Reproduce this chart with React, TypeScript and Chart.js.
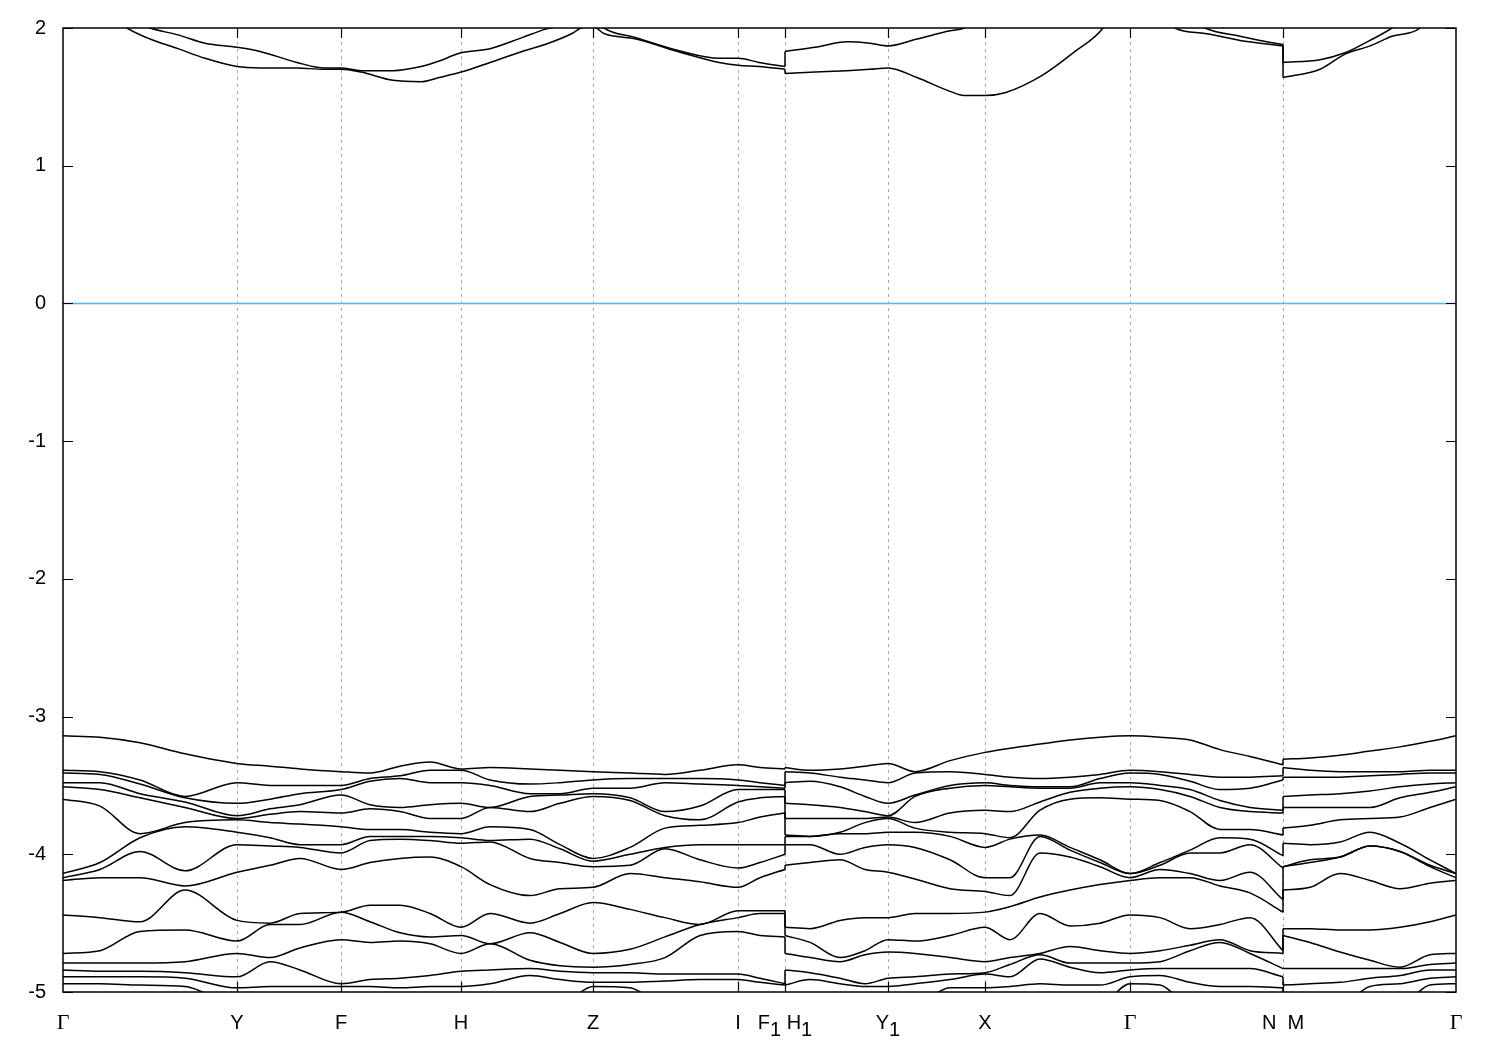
import React, { useEffect, useRef } from "react";
import { Chart, registerables } from "chart.js";

Chart.register(...registerables);

// High-symmetry points along the k-path (path length units)
const kTickPos = [0, 174, 278, 398, 530, 675, 722, 825, 922, 1067, 1220, 1393];
const kTickLabels = ["Γ", "Y", "F", "H", "Z", "I", "F_1 H_1", "Y_1", "X", "Γ", "N  M", "Γ"];
const energyTicks = [-5, -4, -3, -2, -1, 0, 1, 2];
const fermiLevel = 0;

// k samples for the valence bands (repeated k = discontinuity F1|H1 and N|M)
const kSamples = [
  0, 37, 77, 122, 174, 207, 237, 278, 307, 337, 367, 398, 427, 467, 497, 530,
  567, 602, 637, 675, 697, 722, 722, 747, 777, 802, 825, 852, 887, 922, 947,
  977, 1007, 1037, 1067, 1097, 1127, 1157, 1187, 1220, 1220, 1247, 1277, 1307,
  1337, 1367, 1393,
];

// Energies (eV) of the valence bands at each k sample, sorted from the top
const gammaStart = [-3.14, -3.39, -3.41, -3.48, -3.51, -3.60, -4.14, -4.17, -4.19, -4.44, -4.72, -4.79, -4.84, -4.89, -4.94, -5.06, -5.09];
const gammaLevels = [-3.14, -3.39, -3.41, -3.48, -3.51, -3.60, -4.14, -4.14, -4.17, -4.19, -4.44, -4.72, -4.79, -4.84, -4.89, -4.94, -5.06];
const bandLevels: number[][] = [
  gammaStart,
  [-3.15, -3.40, -3.42, -3.48, -3.53, -3.65, -4.06, -4.11, -4.17, -4.46, -4.70, -4.79, -4.85, -4.89, -4.94, -5.06, -5.09],
  [-3.19, -3.46, -3.49, -3.56, -3.59, -3.85, -3.88, -3.98, -4.17, -4.49, -4.56, -4.79, -4.85, -4.89, -4.95, -5.06, -5.09],
  [-3.27, -3.58, -3.59, -3.62, -3.66, -3.77, -3.80, -4.12, -4.23, -4.26, -4.55, -4.78, -4.86, -4.90, -4.96, -5.06, -5.09],
  [-3.34, -3.48, -3.63, -3.72, -3.74, -3.75, -3.84, -3.93, -4.13, -4.48, -4.63, -4.72, -4.89, -4.97, -5.09, -5.13, -5.17],
  [-3.36, -3.50, -3.60, -3.67, -3.71, -3.77, -3.88, -3.94, -4.08, -4.50, -4.51, -4.75, -4.78, -4.96, -5.09, -5.13, -5.17],
  [-3.38, -3.50, -3.56, -3.64, -3.69, -3.78, -3.93, -3.95, -4.03, -4.43, -4.51, -4.68, -4.84, -4.96, -5.09, -5.13, -5.17],
  [-3.40, -3.50, -3.53, -3.57, -3.70, -3.80, -3.93, -3.99, -4.11, -4.42, -4.42, -4.62, -4.94, -4.96, -5.09, -5.13, -5.17],
  [-3.41, -3.45, -3.47, -3.64, -3.67, -3.82, -3.87, -3.90, -4.06, -4.37, -4.49, -4.64, -4.91, -4.96, -5.09, -5.13, -5.17],
  [-3.36, -3.43, -3.45, -3.66, -3.69, -3.82, -3.87, -3.89, -4.03, -4.37, -4.57, -4.63, -4.90, -4.97, -5.09, -5.13, -5.17],
  [-3.33, -3.39, -3.48, -3.64, -3.74, -3.84, -3.87, -3.90, -4.02, -4.43, -4.60, -4.65, -4.88, -4.96, -5.09, -5.13, -5.17],
  [-3.38, -3.39, -3.48, -3.63, -3.74, -3.85, -3.88, -3.92, -4.09, -4.53, -4.59, -4.72, -4.85, -4.96, -5.09, -5.13, -5.17],
  [-3.37, -3.46, -3.50, -3.66, -3.66, -3.80, -3.90, -3.91, -4.22, -4.43, -4.65, -4.65, -4.84, -4.94, -5.09, -5.13, -5.17],
  [-3.38, -3.49, -3.56, -3.58, -3.69, -3.82, -3.89, -4.03, -4.30, -4.50, -4.57, -4.77, -4.83, -4.88, -5.09, -5.13, -5.17],
  [-3.39, -3.48, -3.56, -3.57, -3.63, -3.93, -3.96, -4.06, -4.25, -4.43, -4.64, -4.81, -4.85, -4.91, -5.09, -5.13, -5.17],
  [-3.40, -3.46, -3.52, -3.56, -3.58, -4.03, -4.05, -4.09, -4.24, -4.35, -4.72, -4.82, -4.86, -4.93, -4.96, -5.09, -5.17],
  [-3.41, -3.45, -3.52, -3.59, -3.61, -3.95, -4.00, -4.08, -4.14, -4.40, -4.69, -4.80, -4.86, -4.93, -4.97, -5.13, -5.17],
  [-3.42, -3.45, -3.48, -3.69, -3.72, -3.81, -3.95, -3.96, -4.17, -4.46, -4.60, -4.75, -4.87, -4.92, -5.09, -5.13, -5.17],
  [-3.39, -3.45, -3.49, -3.65, -3.75, -3.79, -3.93, -4.04, -4.20, -4.51, -4.51, -4.59, -4.87, -4.91, -5.09, -5.13, -5.17],
  [-3.35, -3.46, -3.50, -3.53, -3.62, -3.77, -3.93, -4.10, -4.24, -4.41, -4.46, -4.56, -4.87, -4.91, -5.09, -5.13, -5.17],
  [-3.37, -3.48, -3.51, -3.53, -3.59, -3.73, -3.93, -4.06, -4.17, -4.41, -4.43, -4.59, -4.90, -4.93, -5.09, -5.13, -5.17],
  [-3.38, -3.50, -3.52, -3.53, -3.58, -3.70, -3.93, -4.00, -4.11, -4.41, -4.43, -4.60, -4.94, -4.95, -5.09, -5.13, -5.17],
  [-3.37, -3.40, -3.48, -3.63, -3.74, -3.86, -3.87, -3.93, -4.08, -4.53, -4.59, -4.72, -4.84, -4.95, -5.09, -5.13, -5.17],
  [-3.39, -3.41, -3.47, -3.64, -3.74, -3.87, -3.87, -3.93, -4.06, -4.54, -4.64, -4.75, -4.86, -4.91, -5.09, -5.13, -5.17],
  [-3.38, -3.44, -3.51, -3.66, -3.74, -3.84, -3.85, -4.00, -4.04, -4.48, -4.75, -4.78, -4.90, -4.94, -5.09, -5.13, -5.17],
  [-3.36, -3.46, -3.58, -3.69, -3.74, -3.77, -3.85, -3.95, -4.11, -4.46, -4.70, -4.73, -4.94, -4.96, -5.09, -5.13, -5.17],
  [-3.34, -3.48, -3.63, -3.72, -3.73, -3.74, -3.84, -3.93, -4.13, -4.46, -4.62, -4.71, -4.90, -4.96, -5.09, -5.13, -5.17],
  [-3.40, -3.41, -3.57, -3.58, -3.77, -3.81, -3.84, -3.95, -4.18, -4.43, -4.63, -4.72, -4.89, -4.94, -5.09, -5.13, -5.17],
  [-3.32, -3.40, -3.50, -3.52, -3.70, -3.84, -3.87, -4.04, -4.25, -4.43, -4.59, -4.75, -4.87, -4.91, -4.97, -5.09, -5.13],
  [-3.26, -3.42, -3.48, -3.50, -3.68, -3.85, -3.95, -4.17, -4.27, -4.42, -4.53, -4.78, -4.86, -4.87, -4.97, -5.09, -5.13],
  [-3.23, -3.44, -3.50, -3.51, -3.69, -3.88, -3.89, -4.17, -4.30, -4.38, -4.62, -4.75, -4.80, -4.89, -4.96, -5.09, -5.13],
  [-3.20, -3.45, -3.51, -3.52, -3.62, -3.68, -3.86, -3.87, -3.99, -4.31, -4.43, -4.72, -4.73, -4.76, -4.94, -5.09, -5.13],
  [-3.17, -3.44, -3.51, -3.52, -3.55, -3.60, -3.95, -3.97, -4.02, -4.26, -4.52, -4.67, -4.79, -4.82, -4.95, -5.09, -5.13],
  [-3.15, -3.42, -3.45, -3.48, -3.52, -3.59, -4.04, -4.06, -4.09, -4.22, -4.50, -4.70, -4.79, -4.86, -4.95, -5.09, -5.13],
  gammaLevels,
  [-3.15, -3.40, -3.42, -3.50, -3.53, -3.61, -4.06, -4.08, -4.11, -4.17, -4.46, -4.70, -4.78, -4.83, -4.88, -4.95, -5.09],
  [-3.17, -3.42, -3.47, -3.53, -3.58, -3.69, -3.97, -3.99, -4.14, -4.17, -4.54, -4.66, -4.70, -4.83, -4.93, -5.09, -5.13],
  [-3.24, -3.44, -3.53, -3.61, -3.66, -3.82, -3.88, -3.99, -4.19, -4.23, -4.51, -4.62, -4.64, -4.83, -4.96, -5.09, -5.13],
  [-3.29, -3.44, -3.52, -3.66, -3.69, -3.82, -3.89, -3.93, -4.13, -4.28, -4.46, -4.70, -4.72, -4.83, -4.96, -5.09, -5.13],
  [-3.35, -3.43, -3.46, -3.68, -3.70, -3.86, -4.01, -4.10, -4.33, -4.42, -4.70, -4.72, -4.83, -4.89, -4.97, -5.09, -5.13],
  [-3.31, -3.37, -3.44, -3.58, -3.66, -3.81, -3.92, -4.09, -4.09, -4.26, -4.54, -4.59, -4.83, -4.95, -5.09, -5.13, -5.17],
  [-3.30, -3.39, -3.44, -3.57, -3.66, -3.79, -3.93, -4.04, -4.06, -4.24, -4.54, -4.64, -4.83, -4.94, -5.09, -5.13, -5.17],
  [-3.28, -3.40, -3.44, -3.56, -3.66, -3.75, -3.91, -4.02, -4.02, -4.14, -4.55, -4.71, -4.83, -4.93, -5.09, -5.13, -5.17],
  [-3.25, -3.40, -3.43, -3.54, -3.66, -3.74, -3.84, -3.94, -3.94, -4.19, -4.55, -4.77, -4.83, -4.90, -4.96, -5.09, -5.13],
  [-3.22, -3.40, -3.42, -3.51, -3.59, -3.73, -3.92, -3.98, -3.98, -4.25, -4.53, -4.82, -4.83, -4.88, -4.94, -5.09, -5.13],
  [-3.18, -3.39, -3.41, -3.49, -3.55, -3.66, -4.04, -4.08, -4.09, -4.21, -4.49, -4.73, -4.80, -4.84, -4.90, -4.95, -5.09],
  gammaLevels,
];

// Conduction bands
const cbK = [
  0, 64, 87, 115, 142, 174, 197, 234, 261, 278, 298, 330, 358, 376, 398, 427,
  459, 482, 509, 518, 530, 541, 573, 619, 656, 675, 696, 722, 722, 752, 784,
  807, 825, 854, 887, 901, 922, 942, 980, 1012, 1040, 1067, 1112, 1142, 1177,
  1197, 1220, 1220, 1257, 1282, 1307, 1329, 1357, 1393,
];
const cbUpper = [
  2.50, 2.07, 2.00, 1.95, 1.89, 1.86, 1.83, 1.75, 1.71, 1.71, 1.69, 1.69, 1.72,
  1.76, 1.82, 1.85, 1.93, 1.99, 2.03, 2.05, 2.08, 2.00, 1.93, 1.83, 1.78, 1.78,
  1.75, 1.72, 1.83, 1.86, 1.90, 1.89, 1.87, 1.92, 1.98, 2.00, 2.10, 2.15, 2.30,
  2.40, 2.48, 2.50, 2.15, 2.00, 1.94, 1.91, 1.88, 1.75, 1.77, 1.82, 1.91, 2.00,
  2.15, 2.50,
];
const cbLower = [
  2.35, 2.00, 1.92, 1.85, 1.78, 1.72, 1.71, 1.71, 1.70, 1.70, 1.68, 1.62, 1.61,
  1.64, 1.68, 1.75, 1.83, 1.88, 1.96, 2.00, 2.01, 1.96, 1.92, 1.82, 1.75, 1.73,
  1.72, 1.70, 1.67, 1.68, 1.69, 1.70, 1.71, 1.64, 1.54, 1.51, 1.51, 1.53, 1.66,
  1.83, 2.00, 2.35, 2.00, 1.96, 1.91, 1.89, 1.87, 1.64, 1.70, 1.81, 1.87, 1.94,
  2.00, 2.35,
];

const SANS = '"Liberation Sans", Arial, sans-serif';
const SERIF = '"Liberation Serif", "Times New Roman", serif';

function drawKLabel(ctx: CanvasRenderingContext2D, label: string, cx: number, baseY: number) {
  const parts: { t: string; sub: boolean }[] = [];
  for (let i = 0; i < label.length; i++) {
    if (label[i] === "_" && i + 1 < label.length) {
      parts.push({ t: label[i + 1], sub: true });
      i++;
    } else parts.push({ t: label[i], sub: false });
  }
  const fontFor = (t: string) => (t === "Γ" ? `22px ${SERIF}` : `20px ${SANS}`);
  let total = 0;
  const widths = parts.map((p) => {
    ctx.font = fontFor(p.t);
    const w = ctx.measureText(p.t).width;
    total += w;
    return w;
  });
  let x = cx - total / 2;
  parts.forEach((p, i) => {
    ctx.font = fontFor(p.t);
    ctx.fillText(p.t, x, baseY + (p.sub ? 7 : 0));
    x += widths[i];
  });
}

const decorPlugin = {
  id: "bandDecor",
  beforeDatasetsDraw(chart: any) {
    const { ctx, chartArea: a, scales } = chart;
    const xs = scales.x;
    ctx.save();
    ctx.strokeStyle = "#a8a8a8";
    ctx.lineWidth = 1;
    ctx.setLineDash([3, 4]);
    kTickPos.slice(1, -1).forEach((k) => {
      const px = Math.round(xs.getPixelForValue(k)) + 0.5;
      ctx.beginPath();
      ctx.moveTo(px, a.top);
      ctx.lineTo(px, a.bottom);
      ctx.stroke();
    });
    ctx.restore();
  },
  afterDatasetsDraw(chart: any) {
    const { ctx, chartArea: a, scales } = chart;
    const xs = scales.x;
    const ys = scales.y;
    ctx.save();
    ctx.setLineDash([]);
    ctx.strokeStyle = "#000";
    ctx.lineWidth = 1.5;
    ctx.strokeRect(a.left, a.top, a.right - a.left, a.bottom - a.top);
    ctx.lineWidth = 1.2;
    energyTicks.forEach((v) => {
      const py = Math.round(ys.getPixelForValue(v)) + 0.5;
      ctx.beginPath();
      ctx.moveTo(a.left, py);
      ctx.lineTo(a.left + 10, py);
      ctx.moveTo(a.right, py);
      ctx.lineTo(a.right - 10, py);
      ctx.stroke();
    });
    kTickPos.slice(1, -1).forEach((k) => {
      const px = Math.round(xs.getPixelForValue(k)) + 0.5;
      ctx.beginPath();
      ctx.moveTo(px, a.bottom);
      ctx.lineTo(px, a.bottom - 10);
      ctx.moveTo(px, a.top);
      ctx.lineTo(px, a.top + 10);
      ctx.stroke();
    });
    ctx.fillStyle = "#000";
    ctx.font = `20px ${SANS}`;
    ctx.textAlign = "right";
    ctx.textBaseline = "middle";
    energyTicks.forEach((v) => {
      ctx.fillText(String(v), a.left - 17, ys.getPixelForValue(v));
    });
    ctx.textAlign = "left";
    ctx.textBaseline = "alphabetic";
    kTickPos.forEach((k, i) => {
      drawKLabel(ctx, kTickLabels[i], xs.getPixelForValue(k), a.bottom + 37);
    });
    ctx.restore();
  },
};

// split a band at repeated k (discontinuities): smooth pieces + straight jump segments
function bandDatasets(ks: number[], es: number[], style: any) {
  const out: any[] = [];
  let start = 0;
  for (let i = 1; i <= ks.length; i++) {
    if (i === ks.length || ks[i] === ks[i - 1]) {
      const pts = [];
      for (let j = start; j < i; j++) pts.push({ x: ks[j], y: es[j] });
      out.push({ ...style, cubicInterpolationMode: "monotone", data: pts });
      if (i < ks.length) {
        out.push({
          ...style,
          data: [
            { x: ks[i - 1], y: es[i - 1] },
            { x: ks[i], y: es[i] },
          ],
        });
      }
      start = i;
    }
  }
  return out;
}

export default function App() {
  const canvasRef = useRef<HTMLCanvasElement | null>(null);

  useEffect(() => {
    const canvas = canvasRef.current;
    if (!canvas) return;
    const lineStyle = {
      showLine: true,
      borderColor: "#000000",
      borderWidth: 1.5,
      pointRadius: 0,
      fill: false,
      tension: 0,
    };
    const nBands = bandLevels[0].length;
    const datasets: any[] = [];
    for (let b = 0; b < nBands; b++) {
      datasets.push(...bandDatasets(kSamples, bandLevels.map((row) => row[b]), lineStyle));
    }
    datasets.push(...bandDatasets(cbK, cbLower, lineStyle));
    datasets.push(...bandDatasets(cbK, cbUpper, lineStyle));
    datasets.push({
      ...lineStyle,
      borderColor: "#56b4e9",
      data: [
        { x: kTickPos[0], y: fermiLevel },
        { x: kTickPos[kTickPos.length - 1], y: fermiLevel },
      ],
    });

    const chart = new Chart(canvas, {
      type: "scatter",
      data: { datasets },
      options: {
        responsive: false,
        animation: false,
        devicePixelRatio: 1,
        layout: { padding: { left: 63, right: 44, top: 28, bottom: 58 } },
        plugins: { legend: { display: false }, tooltip: { enabled: false } },
        scales: {
          x: { type: "linear", min: kTickPos[0], max: kTickPos[kTickPos.length - 1], display: false },
          y: { type: "linear", min: -5, max: 2, display: false },
        },
      },
      plugins: [decorPlugin],
    } as any);
    return () => chart.destroy();
  }, []);

  return (
    <div style={{ position: "absolute", left: 0, top: 0, width: 1500, height: 1050, background: "#fff" }}>
      <canvas ref={canvasRef} width={1500} height={1050} style={{ display: "block" }} />
    </div>
  );
}
